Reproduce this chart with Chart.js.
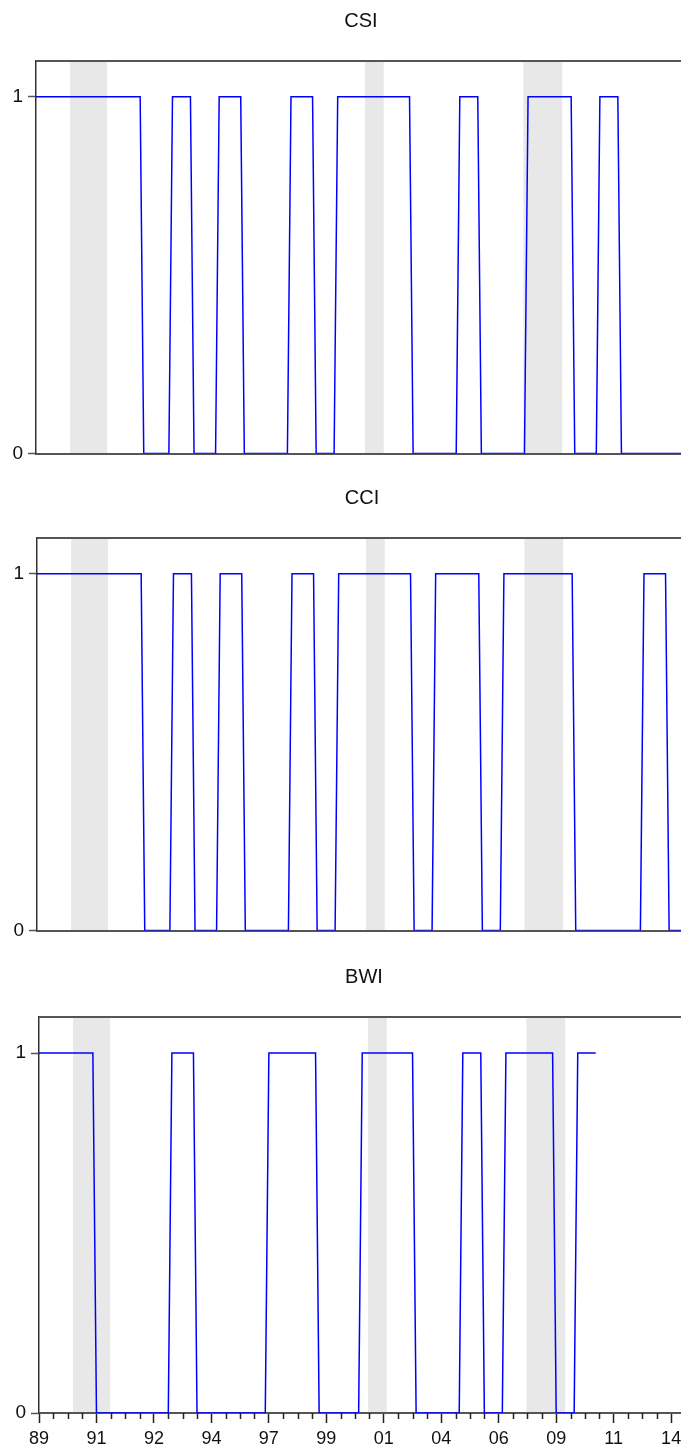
<!DOCTYPE html>
<html>
<head>
<meta charset="utf-8">
<script src="https://cdn.jsdelivr.net/npm/chart.js@4.4.1/dist/chart.umd.min.js"></script>
<style>
  html, body { margin: 0; padding: 0; background: #fff; }
  body { width: 681px; height: 1449px; overflow: hidden; position: relative; }
  canvas { position: absolute; }
</style>
</head>
<body>
<canvas id="csiChart" width="722" height="470" style="left:0;top:0"></canvas>
<canvas id="cciChart" width="722" height="470" style="left:1px;top:477px"></canvas>
<canvas id="bwiChart" width="722" height="493" style="left:3px;top:956px"></canvas>
<script>
// x axis = observation number, one label every 16 obs
const tickLabels = ["89", "91", "92", "94", "97", "99", "01", "04", "06", "09", "11", "14"];
const obsPerLabel = 16;
const lastObs = 191;

// grey shaded periods [from, to] in obs
const shadedSpans = [[9.5, 19.8], [91.6, 96.8], [135.7, 146.5]];

// periods where each indicator = 1, [first, last] obs
const csiHigh = [[0, 29], [38, 43], [51, 57], [71, 77], [84, 104], [118, 123], [137, 149], [157, 162]];
const csiEnd = 191;
const cciHigh = [[0, 29], [38, 43], [51, 57], [71, 77], [84, 104], [111, 123], [130, 149], [169, 175]];
const cciEnd = 191;
const bwiHigh = [[0, 15], [37, 43], [64, 77], [90, 104], [118, 123], [130, 143], [150, 155]];
const bwiEnd = 155;

const fontFamily = "'Liberation Sans', Arial, sans-serif";

function buildSeries(high, end) {
  const pts = [];
  for (let i = 0; i <= end; i++) {
    const on = high.some(([a, b]) => i >= a && i <= b);
    pts.push({ x: i, y: on ? 1 : 0 });
  }
  return pts;
}

const shadePlugin = {
  id: "shade",
  beforeDraw(chart) {
    const { ctx, chartArea, scales } = chart;
    ctx.save();
    ctx.fillStyle = "#e8e8e8";
    shadedSpans.forEach(([a, b]) => {
      const x0 = scales.x.getPixelForValue(a);
      const x1 = scales.x.getPixelForValue(b);
      ctx.fillRect(x0, chartArea.top, x1 - x0, chartArea.bottom - chartArea.top);
    });
    ctx.restore();
  },
  afterDraw(chart) {
    const { ctx, chartArea } = chart;
    ctx.save();
    ctx.strokeStyle = "#555";
    ctx.lineWidth = 2;
    ctx.beginPath();
    ctx.moveTo(chartArea.left, chartArea.top);
    ctx.lineTo(chartArea.right, chartArea.top);
    ctx.stroke();
    ctx.restore();
  }
};

const minorTickPlugin = {
  id: "minorTicks",
  afterDraw(chart) {
    const { ctx, chartArea, scales } = chart;
    ctx.save();
    ctx.strokeStyle = "#222";
    ctx.lineWidth = 1.5;
    ctx.beginPath();
    for (let v = 0; v <= lastObs; v += 4) {
      if (v % obsPerLabel === 0) continue;
      const px = Math.round(scales.x.getPixelForValue(v)) + 0.5;
      ctx.moveTo(px, chartArea.bottom);
      ctx.lineTo(px, chartArea.bottom + 6);
    }
    ctx.stroke();
    ctx.restore();
  }
};

function makeChart(id, title, series, withLabels) {
  return new Chart(document.getElementById(id), {
    type: "line",
    data: {
      datasets: [{
        data: series,
        borderColor: "#0000ff",
        borderWidth: 1.5,
        pointRadius: 0,
        tension: 0,
        fill: false
      }]
    },
    options: {
      responsive: false,
      animation: false,
      devicePixelRatio: 1,
      layout: { padding: 0 },
      plugins: {
        legend: { display: false },
        tooltip: { enabled: false },
        title: {
          display: true,
          text: title,
          color: "#111",
          font: { family: fontFamily, size: 20, weight: "normal" },
          padding: { top: 9, bottom: 28 }
        }
      },
      scales: {
        x: {
          type: "linear",
          min: 0,
          max: lastObs,
          afterBuildTicks: s => { s.ticks = tickLabels.map((_, i) => ({ value: i * obsPerLabel })); },
          afterFit: s => { s.height = withLabels ? 36 : 13; },
          ticks: {
            display: withLabels,
            autoSkip: false,
            maxRotation: 0,
            padding: 5,
            color: "#111",
            font: { family: fontFamily, size: 18 },
            callback: (v, i) => tickLabels[i]
          },
          grid: { display: withLabels, drawOnChartArea: false, tickLength: 10, tickWidth: 1.5, tickColor: "#222" },
          border: { display: true, color: "#555", width: 2 }
        },
        y: {
          min: 0,
          max: 1.1,
          afterBuildTicks: s => { s.ticks = [{ value: 0 }, { value: 1 }]; },
          afterFit: s => { s.width = 36; },
          ticks: { padding: 5, color: "#111", font: { family: fontFamily, size: 19 } },
          grid: { drawOnChartArea: false, tickLength: 8, tickWidth: 1.5, tickColor: "#555" },
          border: { display: true, color: "#333", width: 1.5 }
        }
      }
    },
    plugins: withLabels ? [shadePlugin, minorTickPlugin] : [shadePlugin]
  });
}

makeChart("csiChart", "CSI", buildSeries(csiHigh, csiEnd), false);
makeChart("cciChart", "CCI", buildSeries(cciHigh, cciEnd), false);
makeChart("bwiChart", "BWI", buildSeries(bwiHigh, bwiEnd), true);
</script>
</body>
</html>
